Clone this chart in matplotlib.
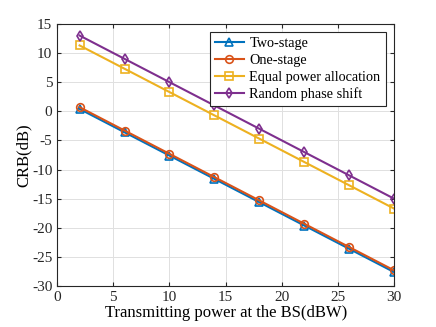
import matplotlib
matplotlib.use('Agg')
import matplotlib.pyplot as plt
import numpy as np

plt.rcParams.update({
    'font.family': 'Liberation Serif',
    'font.size': 11,
    'axes.unicode_minus': False,
})

# Datos
power = [2, 6, 10, 14, 18, 22, 26, 30]
two_stage = [0.4, -3.6, -7.6, -11.6, -15.6, -19.6, -23.6, -27.6]
one_stage = [0.7, -3.3, -7.3, -11.3, -15.3, -19.3, -23.3, -27.3]
equal_power = [11.3, 7.3, 3.3, -0.7, -4.7, -8.7, -12.7, -16.7]
random_phase = [13.0, 9.0, 5.0, 1.0, -3.0, -7.0, -11.0, -15.0]

series = [
    ('Two-stage', two_stage, '#0072BD', '^'),
    ('One-stage', one_stage, '#D95319', 'o'),
    ('Equal power allocation', equal_power, '#EDB120', 's'),
    ('Random phase shift', random_phase, '#7E2F8E', 'd'),
]

fig = plt.figure(figsize=(4.36, 3.27), dpi=100)
ax = fig.add_axes([0.131, 0.125, 0.773, 0.802])

for label, vals, color, marker in series:
    ax.plot(power, vals, color=color, marker=marker, markersize=5.5,
            markerfacecolor='none', markeredgewidth=1.2, linewidth=1.5,
            label=label)

ax.set_xlim(0, 30)
ax.set_ylim(-30, 15)
ax.set_xticks(np.arange(0, 31, 5))
ax.set_yticks(np.arange(-30, 16, 5))
ax.grid(True, color='#E0E0E0', linewidth=0.7)
ax.set_axisbelow(True)
ax.tick_params(direction='in', length=3, colors='#262626', labelsize=11,
               top=True, right=True, labeltop=False, labelright=False)
for s in ax.spines.values():
    s.set_color('#262626')
    s.set_linewidth(0.8)

ax.set_xlabel('Transmitting power at the BS(dBW)', fontsize=12, labelpad=1)
ax.set_ylabel('CRB(dB)', fontsize=12, labelpad=0)

leg = ax.legend(loc='upper right', fontsize=10.3, handlelength=2.0,
                handletextpad=0.4, labelspacing=0.25, borderpad=0.35,
                borderaxespad=0.6, fancybox=False, framealpha=1)
leg.get_frame().set_edgecolor('#262626')
leg.get_frame().set_linewidth(0.8)

fig.savefig('out.png', dpi=100)
